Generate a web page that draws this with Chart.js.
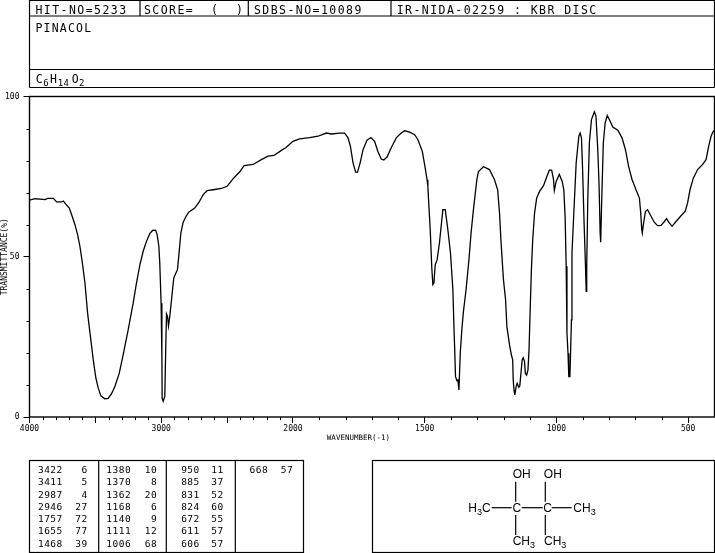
<!DOCTYPE html>
<html><head><meta charset="utf-8">
<script src="https://cdn.jsdelivr.net/npm/chart.js@4"></script>
<style>html,body{margin:0;padding:0;background:#fff;overflow:hidden}
#wrap{position:relative;width:715px;height:553px}
canvas,svg{position:absolute;left:0;top:0}
</style></head><body><div id="wrap"><canvas id="c" width="715" height="553"></canvas><svg id="s" width="715" height="553" xmlns="http://www.w3.org/2000/svg"></svg></div>
<script>
const wavenumbers=[4000,3958,3920,3882,3862,3819,3794,3756,3743,3726,3698,3680,3655,3635,3617,3600,3579,3559,3536,3516,3496,3478,3458,3428,3403,3378,3352,3319,3289,3251,3213,3188,3162,3137,3112,3087,3066,3043,3031,3018,3011,3001,2995,2993,2985,2973,2965,2960,2952,2945,2935,2922,2905,2892,2877,2867,2851,2834,2814,2791,2746,2713,2682,2652,2606,2543,2500,2455,2404,2371,2303,2240,2189,2144,2088,2055,2000,1975,1937,1905,1873,1854,1823,1804,1791,1782,1772,1762,1755,1745,1734,1719,1704,1690,1678,1665,1655,1643,1627,1608,1589,1576,1557,1538,1526,1509,1497,1491,1488,1484,1479,1473,1469,1465,1460,1453,1444,1437,1431,1422,1412,1402,1393,1389,1386,1383,1378,1374,1370,1365,1359,1353,1343,1332,1324,1315,1302,1296,1277,1254,1235,1223,1216,1210,1201,1193,1188,1178,1171,1166,1164,1161,1158,1153,1149,1143,1139,1134,1130,1126,1121,1118,1113,1108,1104,1100,1095,1090,1083,1075,1064,1049,1037,1027,1018,1011,1008,1001,989,978,972,967,963,960,956,953,949,947,943,941,934,925,915,910,905,901,895,890,887,885,881,875,867,856,850,843,838,834,832,828,822,815,807,796,786,767,751,738,726,713,698,685,680,676,674,670,662,654,644,628,616,603,590,582,571,561,546,527,511,502,493,480,464,445,432,422,413,406,400];
const transmittance=[67.7,68.1,68,67.8,68.2,68.2,67.1,67.1,67.4,66.5,65.2,63.1,60,56.9,53.2,48.5,41.8,32.4,24.6,17.8,12.1,9,6.6,5.7,5.8,7.2,9.5,13.6,19.4,27.2,35.5,41.8,47.5,51.7,54.8,57.2,58.2,58.3,56.9,53.2,48,35.5,18.9,5.8,4.9,6.4,23,32.2,31.4,28.4,31.4,36.6,43.3,44.6,45.9,50.1,57.4,60.7,62.4,63.9,65.2,67,69.4,70.6,70.9,71.3,72,74.3,76.5,78.4,78.8,80.3,81.4,81.6,83.2,84,86,86.8,87.2,87.6,88.6,88.3,88.6,88.6,87.1,84.5,79.3,76.4,76.4,79.3,83.4,86.4,87.2,86,82.9,80.5,80.2,81.1,84,87.1,88.6,89.3,88.9,88.1,86.6,82.9,77.2,74,72,65.7,58.4,46.5,41.3,41.8,47.5,49,54.3,60,64.7,64.7,58.4,51.1,39.7,28.2,20.9,12.6,11.4,11.6,8.4,19.9,27.2,32.9,39.7,49.1,57.4,64.7,74.1,76.6,78.1,77.2,74,70.9,63.6,54.3,42.8,36.6,28.2,22.5,19.4,17.8,11.6,8.4,6.9,9.5,10.5,9.3,9.7,14.2,17.8,18.5,17.3,13.6,13.1,14.7,20.9,32.4,45.9,55.3,63.6,68.3,70.4,72.2,74.9,77,77,74.1,70.7,73.5,75.7,73.5,70.9,62.6,47,26.1,19.9,12.6,12.6,17.8,30.3,51.1,63.6,79.3,87.6,88.6,87.1,78.2,60.5,48,39.2,47,67.8,85.5,92.8,95.2,93.9,83.4,72,57.4,54.5,67.8,85.5,91.8,94.1,92.3,90.5,89.5,87.1,83.4,78.2,74.1,70.9,68.3,63.6,58.4,57.4,60,64.2,64.7,63.1,60.7,59.7,59.8,61,61.9,60.5,59.5,61,62.8,64.2,66.8,70.9,74.6,77.2,78.8,80.3,84.5,87.6,89,89.5];
const xMajorTicks=[4000,3500,3000,2500,2000,1500,1000,500];
const xTickLabels=[4000,3000,2000,1500,1000,500];
const xMinorTicks=[3900,3800,3700,3600,3400,3300,3200,3100,2900,2800,2700,2600,2400,2300,2200,2100,1900,1800,1700,1600,1400,1300,1200,1100,900,800,700,600,400];
const yTicks=[0,10,20,30,40,50,60,70,80,90,100];
const yTickLabels=[0,50,100];
const headerCells=["HIT-NO=5233","SCORE=  (  )","SDBS-NO=10089","IR-NIDA-02259 : KBR DISC"];
const compoundName="PINACOL";
const formulaParts=["C","6","H","14","O","2"];
const peakWavenumbers=[[3422,3411,2987,2946,1757,1655,1468],[1380,1370,1362,1168,1140,1111,1006],[950,885,831,824,672,611,606],[668]];
const peakValues=[[6,5,4,27,72,77,39],[10,8,20,6,9,12,68],[11,37,52,60,55,57,57],[57]];

function fold(w){return w>=2000?4000-w:2000+(2000-w)*2;}
function unfold(v){return v<=2000?4000-v:2000-(v-2000)/2;}
const BLACK='#000';
const MONO='"DejaVu Sans Mono"';
const axisFont={family:MONO,size:8};
const framePlugin={id:'frame',afterDatasetsDraw(ch){
  const g=ch.ctx,a=ch.chartArea;g.save();g.strokeStyle=BLACK;g.lineWidth=1.4;
  g.strokeRect(a.left,a.top,a.right-a.left,a.bottom-a.top);
  g.lineWidth=1;g.beginPath();
  xMinorTicks.forEach(t=>{const p=Math.round(ch.scales.x.getPixelForValue(fold(t)))+.5;g.moveTo(p,a.bottom);g.lineTo(p,a.bottom+3);});
  yTicks.forEach(t=>{if(!yTickLabels.includes(t)){const p=Math.round(ch.scales.y.getPixelForValue(t))+.5;g.moveTo(a.left,p);g.lineTo(a.left-3,p);}});
  g.stroke();g.restore();}};
new Chart(document.getElementById('c'),{type:'line',
 data:{datasets:[{data:wavenumbers.map((w,i)=>({x:fold(w),y:transmittance[i]})),borderColor:BLACK,borderWidth:1.3,pointRadius:0,tension:0,fill:false}]},
 plugins:[framePlugin],
 options:{responsive:false,animation:false,devicePixelRatio:1,
  layout:{padding:{left:0,right:0.5,top:96.5,bottom:0}},
  plugins:{legend:{display:false},tooltip:{enabled:false},title:{display:false}},
  scales:{
   x:{type:'linear',min:0,max:5200,
    afterBuildTicks(s){s.ticks=xMajorTicks.map(t=>({value:fold(t)}));},
    afterFit(s){s.height=136;},
    ticks:{autoSkip:false,maxRotation:0,padding:1,color:BLACK,font:axisFont,callback(v){const w=Math.round(unfold(v));return xTickLabels.includes(w)?String(w):'';}},
    grid:{drawOnChartArea:false,drawTicks:true,tickLength:6,tickColor:BLACK,tickWidth:1},
    border:{display:false},
    title:{display:true,text:'WAVENUMBER(-1)      ',color:BLACK,font:{family:MONO,size:7.5},padding:{top:0,bottom:110},align:'center'}},
   y:{type:'linear',min:0,max:100,
    afterBuildTicks(s){s.ticks=yTicks.map(t=>({value:t}));},
    afterFit(s){s.width=29.5;},
    ticks:{autoSkip:false,padding:4,color:BLACK,font:axisFont,callback(v){return yTickLabels.includes(v)?String(v):'';}},
    grid:{drawOnChartArea:false,drawTicks:true,tickLength:6,tickWidth:1,tickColor:c=>yTickLabels.includes(c.tick.value)?BLACK:'rgba(0,0,0,0)'},
    border:{display:false},
    title:{display:true,text:'TRANSMITTANCE(%)',color:BLACK,font:{family:MONO,size:8},padding:{top:0,bottom:0}}}
  }}});

const svg=document.getElementById('s'),NS=svg.namespaceURI;
function el(n,a,t){const e=document.createElementNS(NS,n);for(const k in a)e.setAttribute(k,a[k]);if(t!==undefined)e.textContent=t;svg.appendChild(e);return e;}
function line(x1,y1,x2,y2,w){el('line',{x1,y1,x2,y2,stroke:'#000','stroke-width':w||1.2});}
function txt(x,y,t,size,anchor,ls){return el('text',{x,y,'font-family':MONO,'font-size':size,'text-anchor':anchor||'start',fill:'#000','letter-spacing':ls||0,style:'white-space:pre'},t);}
// header box
line(29.5,0.5,714.5,0.5);line(29.5,16,714.5,16);line(29.5,69.5,714.5,69.5);line(29.5,87.5,714.5,87.5);
line(29.5,0,29.5,87.5);line(714.5,0,714.5,87.5);
[140,248.3,391].forEach(x=>line(x,0,x,16));
[35.5,144,254,396.7].forEach((x,i)=>txt(x,13.7,headerCells[i],11.5,'start',1.45));
txt(35.5,31.7,compoundName,11.5,'start',1.2);
// formula
const fx=[35.7,43.3,50,57.7,71.7,79];
formulaParts.forEach((t,i)=>txt(fx[i],i%2?86:83.3,t,i%2?9:11.5,'start',i%2?0.5:0));
// peak table
el('rect',{x:29.5,y:460.5,width:274,height:92,fill:'none',stroke:'#000','stroke-width':1.2});
[98.7,166.3,235.3].forEach(x=>line(x,460.5,x,552.5));
const rowY=[472.7,485,497.7,510,522.4,534.4,546.7];
const wnR=[62.8,131.2,199.8,268.2],valR=[87.8,157.2,223.8,293.2];
peakWavenumbers.forEach((col,c)=>col.forEach((w,r)=>{txt(wnR[c],rowY[r],String(w),9.5,'end',0.5);txt(valR[c],rowY[r],String(peakValues[c][r]),9.5,'end',0.5);}));
// structure box
el('rect',{x:372.5,y:460.5,width:342,height:92,fill:'none',stroke:'#000','stroke-width':1.2});
function sf(x,y,t,a){return el('text',{x,y,'font-family':'"Liberation Sans"','font-size':12,'text-anchor':a||'middle',fill:'#000'},t);}
function sub3(x,y,pre,post){const e=sf(x,y,pre,'start');const s=document.createElementNS(NS,'tspan');s.setAttribute('dy',3);s.setAttribute('font-size',9);s.textContent='3';e.appendChild(s);if(post){const p=document.createElementNS(NS,'tspan');p.setAttribute('dy',-3);p.textContent=post;e.appendChild(p);}}
sf(521.7,478.3,'OH');sf(552.8,478.3,'OH');sf(516.8,511.7,'C');sf(547.5,511.7,'C');
sub3(468.3,511.7,'H','C');sub3(573.3,511.7,'CH');sub3(512.7,545,'CH');sub3(544,545,'CH');
line(515.7,481.7,515.7,501.7);line(545.3,481.7,545.3,501.7);line(515.7,515,515.7,535);line(545.3,515,545.3,535);
line(491.7,507.7,511.7,507.7);line(521.7,507.7,542.7,507.7);line(551.7,507.7,571.7,507.7);
</script></body></html>
